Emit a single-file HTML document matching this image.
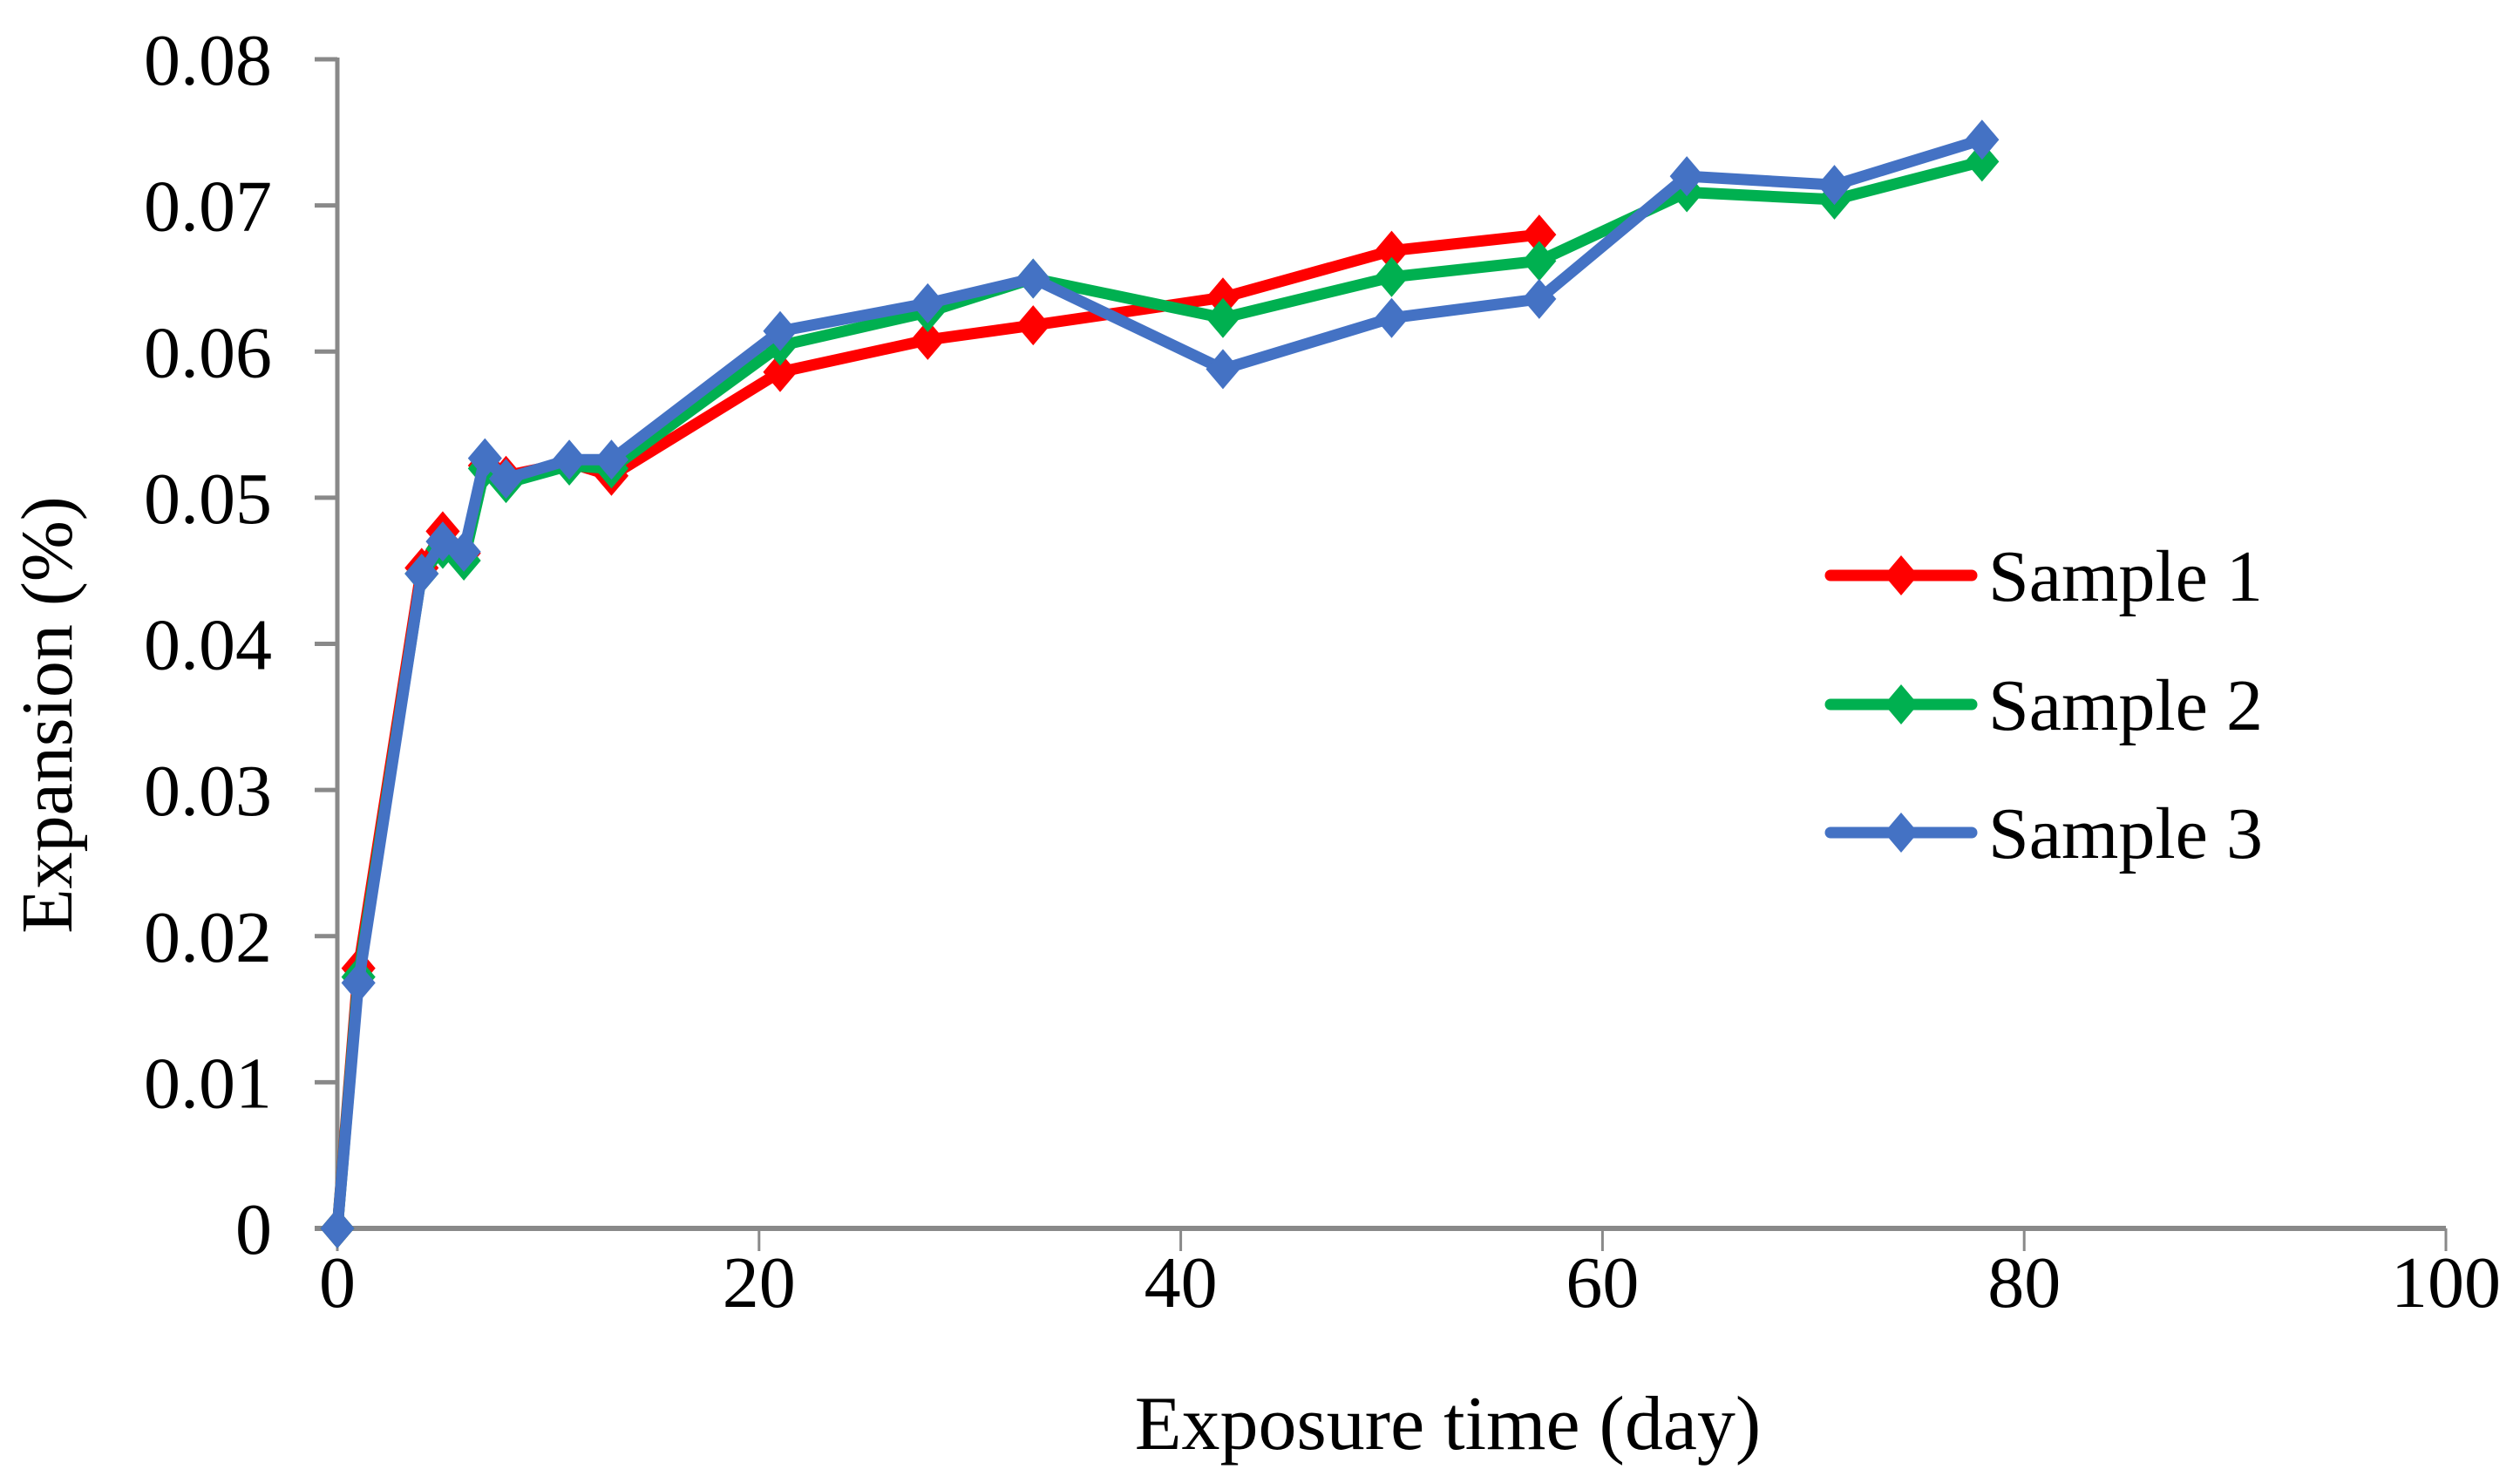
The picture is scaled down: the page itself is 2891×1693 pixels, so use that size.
<!DOCTYPE html>
<html><head><meta charset="utf-8"><style>
html,body{margin:0;padding:0;background:#fff;}
svg{display:block;font-family:"Liberation Serif",serif;}
</style></head><body>
<svg id="chart" width="2891" height="1693" viewBox="0 0 2891 1693">
<g id="axes"></g>
<g id="series"></g>
<g id="legend"></g>
<text x="1661" y="1662" font-size="88" text-anchor="middle">Exposure time (day)</text>
<text transform="translate(82,820) rotate(-90)" font-size="84" text-anchor="middle">Expansion (%)</text>
</svg>
<script>
const xTicks = [0, 20, 40, 60, 80, 100];
const yTicks = [0, 0.01, 0.02, 0.03, 0.04, 0.05, 0.06, 0.07, 0.08];
const yTickLabels = ["0", "0.01", "0.02", "0.03", "0.04", "0.05", "0.06", "0.07", "0.08"];
const seriesNames = ["Sample 1", "Sample 2", "Sample 3"];
const seriesColors = ["#ff0000", "#00b050", "#4472c4"];
const days1 = [0, 1, 4, 5, 6, 7, 8, 11, 13, 21, 28, 33, 42, 50, 57];
const vals1 = [0, 0.0178, 0.0452, 0.0477, 0.0462, 0.0522, 0.0515, 0.0524, 0.0515, 0.0586, 0.0608, 0.0618, 0.0637, 0.0669, 0.068];
const days2 = [0, 1, 4, 5, 6, 7, 8, 11, 13, 21, 28, 33, 42, 50, 57, 64, 71, 78];
const vals2 = [0, 0.0172, 0.0448, 0.0465, 0.0457, 0.052, 0.051, 0.0522, 0.052, 0.0604, 0.0627, 0.065, 0.0623, 0.0651, 0.0662, 0.0709, 0.0704, 0.073];
const days3 = [0, 1, 4, 5, 6, 7, 8, 11, 13, 21, 28, 33, 42, 50, 57, 64, 71, 78];
const vals3 = [0, 0.0168, 0.0448, 0.047, 0.0463, 0.0527, 0.0513, 0.0526, 0.0526, 0.0614, 0.0633, 0.065, 0.0588, 0.0623, 0.0636, 0.072, 0.0714, 0.0745];

const NS = "http://www.w3.org/2000/svg";
const X0 = 387, X1 = 2806, Y0 = 1409, Y1 = 68;
function xs(v){ return X0 + (v - 0) / 100 * (X1 - X0); }
function ys(v){ return Y0 - v / 0.08 * (Y0 - Y1); }
function mk(tag, attrs, parent){ const e = document.createElementNS(NS, tag); for (const k in attrs) e.setAttribute(k, attrs[k]); parent.appendChild(e); return e; }

const axes = document.getElementById("axes");
yTicks.forEach((t, i) => {
  const tk = mk("line", {x1: X0 - 26, x2: X0, y1: ys(t), y2: ys(t), stroke: "#898989", "stroke-width": 5}, axes);
  
  
  const lb = mk("text", {x: 312, y: ys(t) + 29, "font-size": 84, "text-anchor": "end"}, axes);
  lb.textContent = yTickLabels[i];
  
  
});
xTicks.forEach(t => {
  const tk = mk("line", {x1: xs(t), x2: xs(t), y1: Y0, y2: Y0 + 26, stroke: "#898989", "stroke-width": 3}, axes);
  
  
  const lb = mk("text", {x: xs(t), y: 1499, "font-size": 84, "text-anchor": "middle"}, axes);
  lb.textContent = String(t);
  
  
});
const ya = mk("line", {x1: X0, x2: X0, y1: Y1 - 2, y2: Y0, stroke: "#898989", "stroke-width": 5}, axes);


const xa = mk("line", {x1: X0 - 26, x2: X1, y1: Y0, y2: Y0, stroke: "#898989", "stroke-width": 6}, axes);



function diamond(cx, cy, h){ return `M${cx},${cy-h} L${cx+h*0.85},${cy} L${cx},${cy+h} L${cx-h*0.85},${cy} Z`; }
const sg = document.getElementById("series");
const allDays = [days1, days2, days3], allVals = [vals1, vals2, vals3];
allDays.forEach((d, s) => {
  const g = mk("g", {}, sg);
  
  
  const pts = d.map((x, i) => xs(x) + "," + ys(allVals[s][i])).join(" ");
  const pl = mk("polyline", {points: pts, fill: "none", stroke: seriesColors[s], "stroke-width": 13, "stroke-linejoin": "round", "stroke-linecap": "round"}, g);
  
  
  d.forEach((x, i) => {
    const p = mk("path", {d: diamond(xs(x), ys(allVals[s][i]), 23), fill: seriesColors[s]}, g);
    
    
  });
});

const lg = document.getElementById("legend");
const legY = [660, 808, 955];
seriesNames.forEach((n, s) => {
  const g = mk("g", {}, lg);
  
  
  mk("line", {x1: 2100, x2: 2262, y1: legY[s], y2: legY[s], stroke: seriesColors[s], "stroke-width": 13, "stroke-linecap": "round"}, g);
  mk("path", {d: diamond(2181, legY[s], 23), fill: seriesColors[s]}, g);
  const t = mk("text", {x: 2281, y: legY[s] + 29, "font-size": 84}, g);
  t.textContent = n;
});
</script>
</body></html>
